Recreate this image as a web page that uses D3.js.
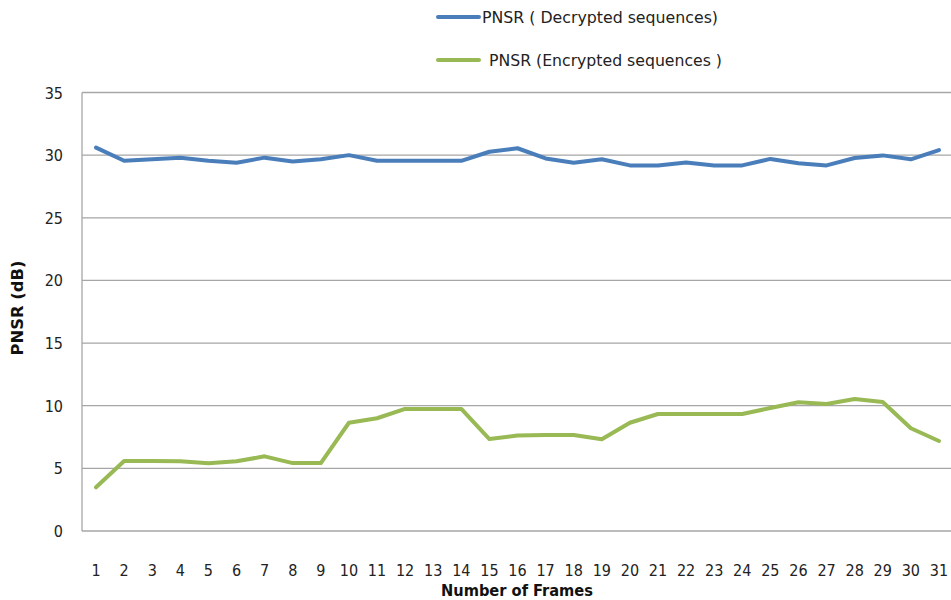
<!DOCTYPE html>
<html><head><meta charset="utf-8">
<script src="https://cdn.jsdelivr.net/npm/d3@7"></script>
<style>body{margin:0;background:#fff}svg{display:block}text{font-family:"Liberation Sans Narrow","DejaVu Sans Condensed","Open Sans",sans-serif}</style>
</head><body><svg id="c" width="951" height="600"></svg>
<script>
const frames = d3.range(1, 32).map(String);
const decrypted = [30.6,29.55,29.67,29.8,29.55,29.4,29.8,29.5,29.67,30.0,29.55,29.55,29.55,29.55,30.27,30.55,29.74,29.4,29.67,29.18,29.18,29.42,29.18,29.18,29.7,29.35,29.18,29.77,29.98,29.67,30.4];
const encrypted = [3.49,5.59,5.59,5.56,5.4,5.56,5.96,5.42,5.42,8.64,9.0,9.74,9.74,9.74,7.34,7.62,7.66,7.66,7.32,8.64,9.34,9.34,9.34,9.34,9.82,10.27,10.14,10.53,10.3,8.2,7.18];
const yTicks = [0,5,10,15,20,25,30,35];
const seriesNames = ["PNSR ( Decrypted sequences)", "PNSR (Encrypted sequences )"];
const colors = ["#4a7ebb", "#98b954"];

const svg = d3.select("#c");
const pLeft = 82, pRight = 953, pTop = 92.5, pBottom = 531;
const x = d3.scaleBand().domain(frames).range([pLeft, pRight]);
const y = d3.scaleLinear().domain([0, 35]).range([pBottom, pTop]);

svg.append("g").selectAll("line").data(yTicks).join("line")
  .attr("x1", pLeft).attr("x2", 951).attr("y1", d => y(d)).attr("y2", d => y(d))
  .attr("stroke", "#a6a6a6").attr("stroke-width", 1.3);
svg.append("line").attr("x1", pLeft).attr("x2", pLeft).attr("y1", pTop).attr("y2", pBottom)
  .attr("stroke", "#a6a6a6").attr("stroke-width", 1.3);

svg.append("g").selectAll("text").data(yTicks).join("text")
  .attr("x", 63).attr("y", d => y(d) + 6).attr("text-anchor", "end")
  .attr("font-size", 16).attr("fill", "#222").text(d => d);

svg.append("g").selectAll("text").data(frames).join("text")
  .attr("x", d => x(d) + x.bandwidth() / 2).attr("y", 576).attr("text-anchor", "middle")
  .attr("font-size", 16).attr("fill", "#222").text(d => d);

svg.append("text").attr("transform", "translate(23,308) rotate(-90)").attr("text-anchor", "middle")
  .attr("font-size", 15).attr("font-weight", "bold").attr("fill", "#111")
  .attr("textLength", 95).attr("lengthAdjust", "spacingAndGlyphs").text("PNSR (dB)");
svg.append("text").attr("x", 517).attr("y", 596).attr("text-anchor", "middle")
  .attr("font-size", 15).attr("font-weight", "bold").attr("fill", "#111")
  .attr("textLength", 152).attr("lengthAdjust", "spacingAndGlyphs").text("Number of Frames");

const line = d3.line().x((d, i) => x(frames[i]) + x.bandwidth() / 2).y(d => y(d));
[decrypted, encrypted].forEach((s, k) => {
  svg.append("path").datum(s).attr("d", line).attr("fill", "none")
    .attr("stroke", colors[k]).attr("stroke-width", 4).attr("stroke-linejoin", "round").attr("stroke-linecap", "round");
});

const leg = [{y: 17, tx: 482, tl: 236}, {y: 60, tx: 489, tl: 233}];
leg.forEach((l, k) => {
  svg.append("line").attr("x1", 438).attr("x2", 479).attr("y1", l.y).attr("y2", l.y)
    .attr("stroke", colors[k]).attr("stroke-width", 4).attr("stroke-linecap", "round");
  svg.append("text").attr("x", l.tx).attr("y", l.y + 6).attr("font-size", 16).attr("fill", "#222")
    .attr("textLength", l.tl).attr("lengthAdjust", "spacingAndGlyphs").text(seriesNames[k]);
});
</script></body></html>
